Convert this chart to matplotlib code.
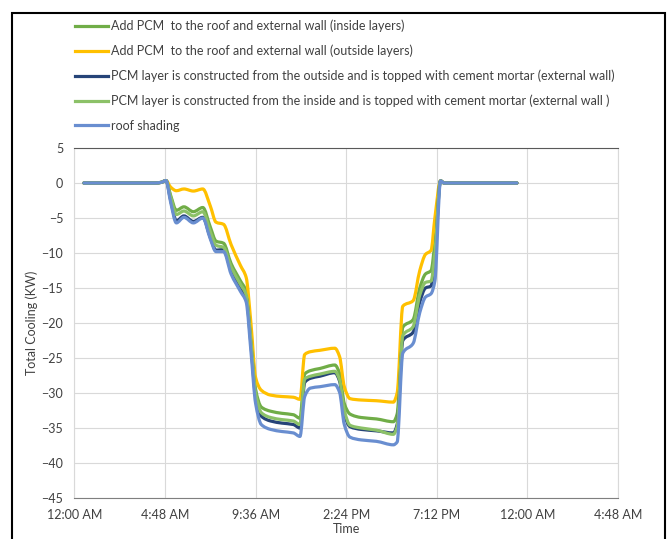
"""
Total cooling load over one day for the PCM / roof shading cases.
Recreated as a static figure, saved to out.png.
"""

import matplotlib
matplotlib.use("Agg")
import matplotlib.pyplot as plt
from matplotlib.lines import Line2D
from matplotlib.patches import PathPatch, Rectangle
from matplotlib.path import Path

plt.rcParams["font.family"] = ["Lato", "DejaVu Sans"]

# hours since midnight
HOURS = [0.5, 4.3, 4.6, 4.85, 5.1, 5.4, 5.8, 6.3, 6.8, 7.2, 7.5, 7.9, 8.3, 8.8,
         9.1, 9.35, 9.6, 9.9, 10.4, 11.0, 11.6, 11.95, 12.2, 12.5, 13.0, 13.8,
         14.05, 14.3, 14.6, 15.2, 16.0, 16.9, 17.1, 17.4, 17.95, 18.3, 18.6,
         18.9, 19.1, 19.4, 19.6, 23.45]

INSIDE_LAYERS = [0, 0, 0.1, 0.35, -1.8, -3.9, -3.4, -4.1, -3.5, -6.3, -8.3, -8.6,
                 -11.5, -14.0, -15.5, -22.0, -29.5, -32.0, -32.6, -32.9, -33.1,
                 -33.6, -27.3, -26.8, -26.5, -26.0, -27.2, -31.5, -33.0, -33.5,
                 -33.7, -34.1, -33.0, -20.6, -19.5, -15.0, -13.0, -12.5, -8.5,
                 0.3, 0.0, 0.0]
OUTSIDE_LAYERS = [0, 0, 0.1, 0.35, -0.6, -1.1, -0.85, -1.15, -0.85, -3.3, -5.6,
                  -5.9, -8.8, -11.8, -13.5, -20.0, -27.8, -29.6, -30.3, -30.5,
                  -30.6, -30.9, -24.5, -24.1, -23.9, -23.6, -24.8, -29.1, -30.8,
                  -31.0, -31.1, -31.3, -30.0, -17.6, -16.8, -12.5, -10.2, -9.6,
                  -5.0, 0.3, 0.0, 0.0]
PCM_OUTSIDE_MORTAR = [0, 0, 0.1, 0.35, -2.5, -5.4, -4.7, -5.5, -4.9, -7.8, -9.6,
                      -9.5, -12.5, -15.0, -16.3, -23.0, -30.5, -33.3, -34.0,
                      -34.3, -34.5, -35.0, -28.5, -27.9, -27.6, -27.1, -28.3,
                      -33.0, -34.8, -35.2, -35.4, -35.7, -34.5, -22.5, -21.3,
                      -17.0, -15.0, -14.7, -10.5, 0.3, 0.0, 0.0]
PCM_INSIDE_MORTAR = [0, 0, 0.1, 0.35, -2.0, -4.5, -4.0, -4.7, -4.1, -7.0, -8.9,
                     -9.2, -12.0, -14.5, -16.0, -22.5, -30.0, -32.8, -33.5,
                     -33.8, -34.0, -34.5, -28.0, -27.6, -27.3, -26.9, -28.1,
                     -32.5, -34.6, -35.0, -35.3, -35.9, -34.8, -21.8, -20.5,
                     -16.0, -14.2, -14.0, -10.0, 0.3, 0.0, 0.0]
ROOF_SHADING = [0, 0, 0.1, 0.35, -2.8, -5.7, -4.9, -5.7, -5.0, -8.0, -9.8, -9.8,
                -13.0, -15.5, -17.0, -24.0, -31.5, -34.5, -35.2, -35.5, -35.7,
                -36.2, -30.5, -29.3, -29.1, -28.8, -29.9, -34.5, -36.3, -36.7,
                -36.9, -37.4, -37.0, -24.3, -22.9, -18.5, -16.3, -15.8, -14.0,
                0.3, 0.0, 0.0]

LABELS = [
    "Add PCM  to the roof and external wall (inside layers)",
    "Add PCM  to the roof and external wall (outside layers)",
    "PCM layer is constructed from the outside and is topped with cement mortar (external wall)",
    "PCM layer is constructed from the inside and is topped with cement mortar (external wall )",
    "roof shading",
]
COLORS = ["#70AD47", "#FFC000", "#264478", "#8CC168", "#698ED0"]

X_TICKS = [0, 4.8, 9.6, 14.4, 19.2, 24.0, 28.8]
X_TICK_LABELS = ["12:00 AM", "4:48 AM", "9:36 AM", "2:24 PM", "7:12 PM",
                 "12:00 AM", "4:48 AM"]
Y_TICKS = list(range(-45, 6, 5))


def smooth_path(x, y):
    """Smoothed line through the points: cubic beziers with monotone tangents."""
    n = len(x)
    h = [x[i + 1] - x[i] for i in range(n - 1)]
    delta = [(y[i + 1] - y[i]) / h[i] for i in range(n - 1)]
    m = [0.0] * n
    m[0], m[-1] = delta[0], delta[-1]
    for i in range(1, n - 1):
        if delta[i - 1] * delta[i] <= 0:
            m[i] = 0.0
        else:
            w1 = 2 * h[i] + h[i - 1]
            w2 = h[i] + 2 * h[i - 1]
            m[i] = (w1 + w2) / (w1 / delta[i - 1] + w2 / delta[i])

    verts = [(x[0], y[0])]
    codes = [Path.MOVETO]
    for i in range(n - 1):
        d = h[i] / 3
        verts += [(x[i] + d, y[i] + m[i] * d),
                  (x[i + 1] - d, y[i + 1] - m[i + 1] * d),
                  (x[i + 1], y[i + 1])]
        codes += [Path.CURVE4] * 3
    return Path(verts, codes)


def main() -> None:
    fig = plt.figure(figsize=(6.68, 5.39), dpi=100)
    ax = fig.add_axes([0.1115, 0.076, 0.8135, 0.6494])

    series = [INSIDE_LAYERS, OUTSIDE_LAYERS, PCM_OUTSIDE_MORTAR,
              PCM_INSIDE_MORTAR, ROOF_SHADING]
    handles = []
    for values, color, label in zip(series, COLORS, LABELS):
        patch = PathPatch(smooth_path(HOURS, values), fill=False, edgecolor=color,
                          linewidth=2.3, capstyle="round", joinstyle="round",
                          zorder=3)
        ax.add_patch(patch)
        handles.append(Line2D([], [], color=color, linewidth=2.3, label=label))

    ax.set_xlim(0, 28.8)
    ax.set_ylim(-45, 5)
    ax.set_xticks(X_TICKS)
    ax.set_xticklabels(X_TICK_LABELS)
    ax.set_yticks(Y_TICKS)
    ax.tick_params(length=0, labelsize=9, colors="#404040", pad=8)
    ax.grid(color="#D9D9D9", linewidth=0.8)
    ax.set_axisbelow(True)
    for side in ["left", "right"]:
        ax.spines[side].set_color("#D9D9D9")
    ax.spines["bottom"].set_color("#7F7F7F")
    ax.spines["top"].set_color("#595959")
    ax.spines["top"].set_linewidth(0.8)

    ax.set_xlabel("Time", fontsize=9, color="#404040")
    ax.xaxis.set_label_coords(0.5, -0.072)
    ax.set_ylabel("Total Cooling (KW)", fontsize=9, color="#404040")
    ax.yaxis.set_label_coords(-0.068, 0.5)

    fig.legend(handles=handles, loc="upper left", bbox_to_anchor=(0.095, 0.985),
               frameon=False, fontsize=9, handlelength=2.7, handletextpad=0.2,
               labelspacing=1.0, labelcolor="#404040")

    fig.patches.append(Rectangle((0.018, -0.02), 0.977, 0.995, transform=fig.transFigure,
                                 fill=False, edgecolor="black", linewidth=1.5))

    fig.savefig("out.png", dpi=100)
    plt.close(fig)


if __name__ == "__main__":
    main()
